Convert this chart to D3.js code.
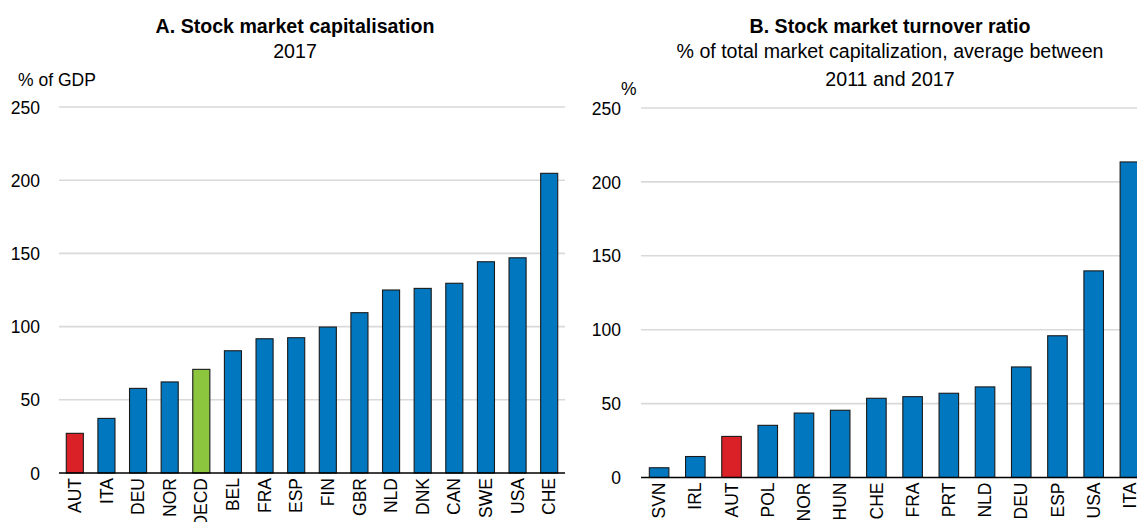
<!DOCTYPE html>
<html>
<head>
<meta charset="utf-8">
<script src="https://cdn.jsdelivr.net/npm/d3@7"></script>
<style>
  body { margin: 0; background: #fff; }
  svg { display: block; }
  text { font-family: "Liberation Sans Narrow", "Arial Narrow", "Liberation Sans", Arial, sans-serif; fill: #000; }
</style>
</head>
<body>
<svg id="chart" width="1137" height="522"></svg>
<script>
// Panel A data
const catsA = ["AUT","ITA","DEU","NOR","OECD","BEL","FRA","ESP","FIN","GBR","NLD","DNK","CAN","SWE","USA","CHE"];
const valsA = [27.1, 37.3, 57.8, 62.2, 70.8, 83.5, 91.7, 92.4, 99.7, 109.5, 125, 126.1, 129.6, 144.3, 147, 204.7];
// Panel B data
const catsB = ["SVN","IRL","AUT","POL","NOR","HUN","CHE","FRA","PRT","NLD","DEU","ESP","USA","ITA"];
const valsB = [6.6, 14.2, 27.8, 35.3, 43.6, 45.5, 53.6, 54.7, 57, 61.3, 74.8, 95.9, 139.8, 213.5];
const yTicks = [0, 50, 100, 150, 200, 250];

const svg = d3.select("#chart");
const BLUE = "#0077bf", RED = "#da2128", GREEN = "#8cc63f";
function colorFor(c) { return c === "AUT" ? RED : (c === "OECD" ? GREEN : BLUE); }

function panel(cfg) {
  const g = svg.append("g");
  const x = d3.scaleBand().domain(cfg.cats).range([cfg.x0, cfg.x1]).paddingInner(0.46).paddingOuter(0.23);
  const y = d3.scaleLinear().domain([0, 250]).range([cfg.y0, cfg.y250]);

  // gridlines
  g.selectAll(".grid").data(yTicks.filter(t => t > 0)).enter().append("line")
    .attr("x1", cfg.x0).attr("x2", cfg.gridEnd)
    .attr("y1", d => y(d)).attr("y2", d => y(d))
    .attr("stroke", "#d9d9d9").attr("stroke-width", 1.6);

  // y tick labels
  const yAxis = d3.axisLeft(y).tickValues(yTicks).tickSize(0).tickPadding(0);
  const ya = g.append("g").attr("transform", `translate(${cfg.labelX},0)`).call(yAxis);
  ya.select(".domain").remove();
  ya.selectAll("text").style("font-size", "17.5px").style("font-family", null).attr("dy", "0.35em");

  // bars
  g.selectAll(".bar").data(cfg.cats).enter().append("rect")
    .attr("x", d => x(d)).attr("width", x.bandwidth())
    .attr("y", (d, i) => y(cfg.vals[i])).attr("height", (d, i) => y(0) - y(cfg.vals[i]))
    .attr("fill", d => colorFor(d)).attr("stroke", "#1a1a1a").attr("stroke-width", 1.1);

  // x axis
  const xAxis = d3.axisBottom(x).tickSize(0).tickPadding(0);
  const xa = g.append("g").attr("transform", `translate(0,${cfg.y0})`).call(xAxis);
  xa.select(".domain").attr("d", `M${cfg.x0},0H${cfg.gridEnd}`).attr("stroke", "#000").attr("stroke-width", 1.6);
  xa.selectAll("text")
    .style("font-size", "17.5px").style("font-family", null)
    .attr("transform", "rotate(-90)")
    .attr("text-anchor", "end").attr("x", -5).attr("y", 0).attr("dy", "0.35em");
  return g;
}

panel({cats: catsA, vals: valsA, x0: 59, x1: 565, gridEnd: 565, y0: 473, y250: 107, labelX: 40});
panel({cats: catsB, vals: valsB, x0: 641, x1: 1148, gridEnd: 1148, y0: 477.5, y250: 108, labelX: 621});

// Titles
svg.append("text").attr("x", 295).attr("y", 33).attr("text-anchor", "middle")
  .style("font-size", "19.6px").style("font-weight", "bold").text("A. Stock market capitalisation");
svg.append("text").attr("x", 295).attr("y", 58).attr("text-anchor", "middle")
  .style("font-size", "19.6px").text("2017");
svg.append("text").attr("x", 18).attr("y", 86).attr("text-anchor", "start")
  .style("font-size", "17.5px").text("% of GDP");

svg.append("text").attr("x", 890).attr("y", 33).attr("text-anchor", "middle")
  .style("font-size", "19.6px").style("font-weight", "bold").text("B. Stock market turnover ratio");
svg.append("text").attr("x", 890).attr("y", 58).attr("text-anchor", "middle")
  .style("font-size", "19.6px").text("% of total market capitalization, average between");
svg.append("text").attr("x", 890).attr("y", 86).attr("text-anchor", "middle")
  .style("font-size", "19.6px").text("2011 and 2017");
svg.append("text").attr("x", 621).attr("y", 95).attr("text-anchor", "start")
  .style("font-size", "17.5px").text("%");
</script>
</body>
</html>
